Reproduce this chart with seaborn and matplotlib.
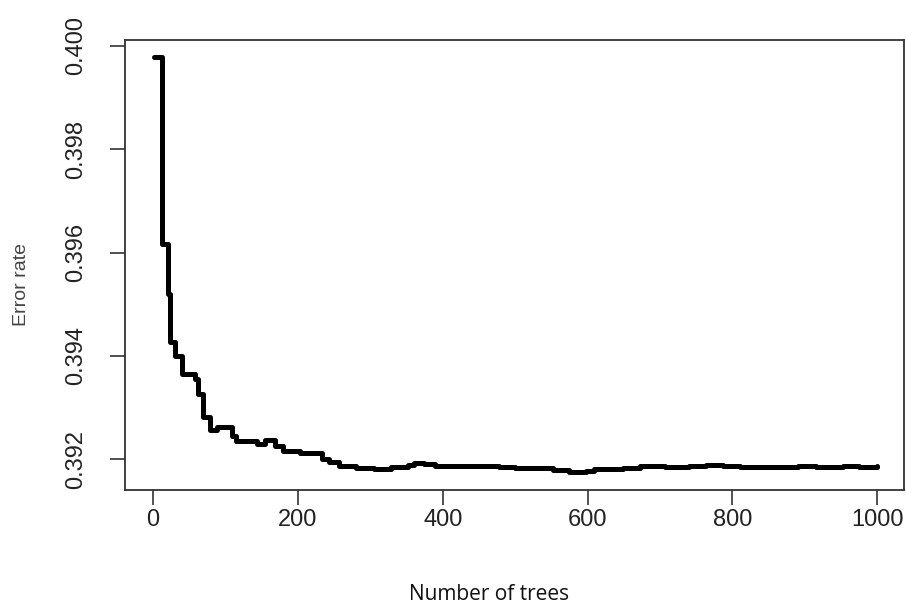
import pandas as pd
import seaborn as sns
import matplotlib.pyplot as plt

# step breakpoints of the OOB error curve
trees = [1, 12, 21, 23, 30, 40, 58, 62, 69, 79, 88, 109, 115, 143, 155, 168,
         180, 203, 234, 243, 257, 280, 305, 329, 352, 360, 374, 389, 438, 478,
         500, 552, 575, 598, 609, 649, 673, 707, 740, 764, 787, 810, 878, 890,
         915, 953, 975, 1000]
error = [0.39979, 0.39617, 0.39519, 0.39426, 0.39399, 0.39364, 0.39355,
         0.39326, 0.39281, 0.39256, 0.39262, 0.39245, 0.39235, 0.39230,
         0.39237, 0.39225, 0.39215, 0.39212, 0.39200, 0.39194, 0.39186,
         0.39182, 0.39180, 0.39184, 0.39188, 0.39193, 0.39190, 0.39187,
         0.39186, 0.39184, 0.39182, 0.39179, 0.39175, 0.39177, 0.39181,
         0.39183, 0.39187, 0.39184, 0.39187, 0.39188, 0.39186, 0.39184,
         0.39184, 0.39187, 0.39185, 0.39187, 0.39185, 0.39187]

x_ticks = [0, 200, 400, 600, 800, 1000]
y_ticks = [0.392, 0.394, 0.396, 0.398, 0.400]

df = pd.DataFrame({"trees": trees, "error": error})

sns.set_theme(style="white")
plt.rcParams["font.family"] = ["Liberation Sans", "DejaVu Sans"]

fig = plt.figure(figsize=(9.06, 6.08), dpi=100)
ax = fig.add_axes([125 / 906, 118 / 608, 779 / 906, 450 / 608])

sns.lineplot(data=df, x="trees", y="error", color="black", linewidth=3.6,
             drawstyle="steps-post", ax=ax)

ax.set_xlim(-38.7, 1037)
ax.set_ylim(0.391401, 0.400116)
ax.set_xticks(x_ticks)
ax.set_yticks(y_ticks)
ax.set_xticklabels([str(v) for v in x_ticks])
ax.set_yticklabels([f"{v:.3f}" for v in y_ticks])

for s in ax.spines.values():
    s.set_visible(True)
    s.set_color("#333333")
    s.set_linewidth(1.3)

ax.tick_params(axis="both", which="major", length=11, width=1.2,
               color="#333333", labelsize=17, labelcolor="#222222",
               direction="out", left=True, bottom=True)
ax.tick_params(axis="x", pad=3)
ax.tick_params(axis="y", pad=16, labelrotation=90)
for lab in ax.get_yticklabels():
    lab.set_verticalalignment("center")

ax.set_xlabel("")
ax.set_ylabel("")

fig.text(22 / 906, 1 - 285 / 608, "Error rate", rotation=90, ha="center",
         va="center", fontsize=14, color="#444444")
fig.text(489 / 906, 1 - 595 / 608, "Number of trees", ha="center",
         va="center", fontsize=15, color="#111111",
         family=["Open Sans", "DejaVu Sans"])

fig.savefig("out.png", dpi=100)
plt.close()
